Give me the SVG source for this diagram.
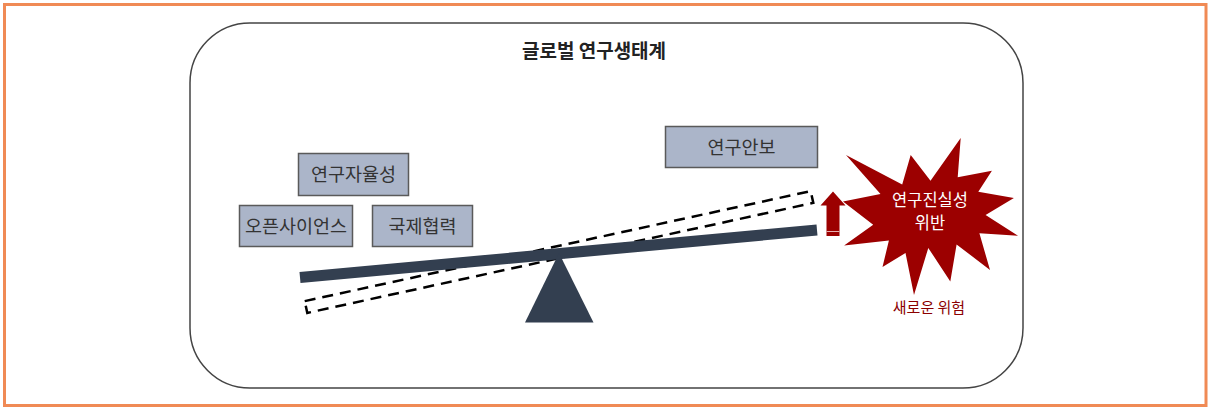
<svg xmlns="http://www.w3.org/2000/svg" width="1210" height="407" viewBox="0 0 1210 407">
<style>
.lbl{font-family:"Noto Sans CJK KR","Noto Sans",sans-serif;}
.box{fill:#abb5c9;stroke:#5a5a5a;stroke-width:1.5;}
.boxt{font-size:18.5px;fill:#333333;text-anchor:middle;}
.red{fill:#9c0000;}
</style>
<rect x="4.5" y="4.5" width="1201.5" height="401" fill="#ffffff" stroke="#f08a55" stroke-width="3"/>
<g id="ecosystem">
<rect x="190" y="23" width="833" height="365" rx="60" ry="60" fill="none" stroke="#444444" stroke-width="1.5"/>
<text class="lbl" x="594" y="57.5" font-size="19" font-weight="bold" fill="#222222" text-anchor="middle">글로벌 연구생태계</text>
</g>
<g id="node-autonomy">
<rect class="box" x="298.5" y="153.5" width="110" height="42"/>
<text class="lbl boxt" x="353.5" y="181">연구자율성</text>
</g>
<g id="node-openscience">
<rect class="box" x="239.5" y="205.5" width="113" height="41"/>
<text class="lbl boxt" x="296" y="232.5">오픈사이언스</text>
</g>
<g id="node-cooperation">
<rect class="box" x="372.5" y="205.5" width="100" height="41"/>
<text class="lbl boxt" x="422.5" y="232.5">국제협력</text>
</g>
<g id="node-security">
<rect class="box" x="665.5" y="126.5" width="152" height="41"/>
<text class="lbl boxt" x="741.5" y="153.5">연구안보</text>
</g>
<g id="connectors">
<polygon points="304.7,301.1 810.7,191.1 813.3,202.9 307.3,312.9" fill="none" stroke="#000000" stroke-width="2.5" stroke-dasharray="11,7"/>
<line x1="300" y1="277.5" x2="817" y2="230" stroke="#333f50" stroke-width="11"/>
<polygon points="559,253 593.5,322.5 525,322.5" fill="#333f50"/>
<polygon class="red" points="833,191.5 845.5,205.5 839.5,205.5 839.5,236 826.5,236 826.5,205.5 820.5,205.5"/>
<line x1="826.5" y1="231.5" x2="839.5" y2="231.5" stroke="#e8b0b0" stroke-width="1"/>
</g>
<g id="node-integrity">
<polygon class="red" points="930.5,180.7 960.7,138 957.7,177.2 991.9,170.8 978.3,191.8 1013.9,197.9 985.6,215.1 1018,235.8 979.4,233.3 990,270 956.6,244.4 950.3,281.5 928.3,247.9 914,295 905.5,253 882.5,267 888.9,240.6 844.1,245.4 873.2,224.7 843,201.4 880.5,194.1 846,154.9 902.2,184.5 910.7,154.9"/>
<text class="lbl" x="930" y="205.5" font-size="16.5" fill="#ffffff" text-anchor="middle">연구진실성</text>
<text class="lbl" x="930" y="228.5" font-size="16.5" fill="#ffffff" text-anchor="middle">위반</text>
</g>
<g id="label-risk">
<text class="lbl" x="929" y="312.5" font-size="15" fill="#8b0000" text-anchor="middle">새로운 위험</text>
</g>
</svg>
